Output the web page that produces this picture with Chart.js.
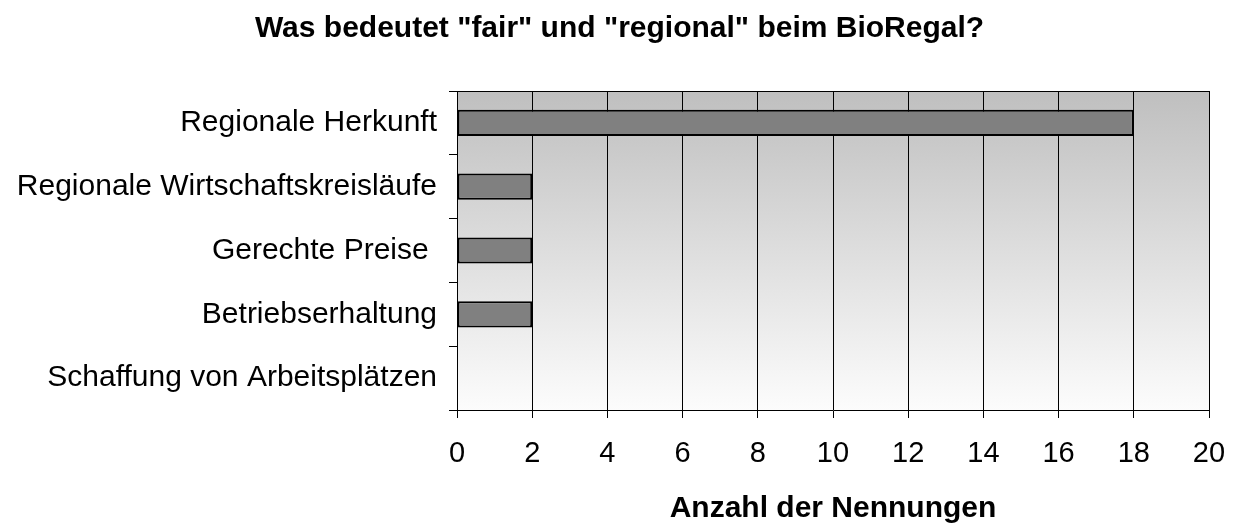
<!DOCTYPE html>
<html>
<head>
<meta charset="utf-8">
<script src="https://cdn.jsdelivr.net/npm/chart.js@4/dist/chart.umd.min.js"></script>
<style>
  html, body { margin: 0; padding: 0; background: #fff; }
  #wrap { width: 1239px; height: 524px; }
</style>
</head>
<body>
<div id="wrap"><canvas id="c" width="1239" height="524"></canvas></div>
<script>
const categories = [
  "Regionale Herkunft",
  "Regionale Wirtschaftskreisläufe",
  "Gerechte Preise ",
  "Betriebserhaltung",
  "Schaffung von Arbeitsplätzen"
];
const counts = [18, 2, 2, 2, 0];
const chartTitle = 'Was bedeutet "fair" und "regional" beim BioRegal?';
const xAxisTitle = 'Anzahl der Nennungen';
const xMin = 0, xMax = 20, xStep = 2;

const FONT = "'Liberation Sans', Arial, sans-serif";

const bgPlugin = {
  id: 'bg',
  beforeDraw(chart) {
    const {ctx, chartArea: a} = chart;
    ctx.save();
    const g = ctx.createLinearGradient(0, a.top, 0, a.bottom);
    g.addColorStop(0, '#bfbfbf');
    g.addColorStop(1, '#fcfcfc');
    ctx.fillStyle = g;
    ctx.fillRect(a.left, a.top, a.right - a.left, a.bottom - a.top);
    ctx.restore();
  },
  afterDatasetsDraw(chart) {
    const {ctx, chartArea: a} = chart;
    ctx.save();
    ctx.strokeStyle = '#000';
    ctx.lineWidth = 1;
    ctx.beginPath();
    ctx.moveTo(a.left - 8, Math.round(a.top) + 0.5);
    ctx.lineTo(a.right, Math.round(a.top) + 0.5);
    ctx.stroke();
    ctx.restore();
  }
};

new Chart(document.getElementById('c'), {
  type: 'bar',
  data: {
    labels: categories,
    datasets: [{
      data: counts,
      backgroundColor: '#808080',
      borderColor: '#000',
      borderWidth: 2,
      borderSkipped: false,
      barPercentage: 0.41,
      categoryPercentage: 1
    }]
  },
  options: {
    indexAxis: 'y',
    responsive: false,
    animation: false,
    devicePixelRatio: 1,
    layout: { padding: 0 },
    plugins: {
      legend: { display: false },
      tooltip: { enabled: false },
      title: {
        display: true,
        text: chartTitle,
        color: '#000',
        font: { family: FONT, size: 30, weight: 'bold', lineHeight: 1.2 },
        padding: { top: 11, bottom: 44 }
      }
    },
    scales: {
      x: {
        type: 'linear',
        min: xMin,
        max: xMax,
        ticks: {
          stepSize: xStep,
          color: '#000',
          font: { family: FONT, size: 29 },
          padding: 19,
          maxRotation: 0
        },
        grid: {
          color: '#000',
          lineWidth: 1,
          drawTicks: true,
          tickLength: 8,
          tickColor: '#000'
        },
        border: { display: true, color: '#000', width: 1 },
        title: {
          display: true,
          text: xAxisTitle,
          color: '#000',
          font: { family: FONT, size: 30, weight: 'bold', lineHeight: 1.2 },
          padding: { top: 0, bottom: -3 }
        },
        afterFit(scale) {
          scale.height = 114;
          scale.paddingRight = 30;
          scale.paddingLeft = 0;
        }
      },
      y: {
        type: 'category',
        offset: true,
        ticks: {
          color: '#000',
          font: { family: FONT, size: 30 },
          padding: 12,
          autoSkip: false
        },
        grid: {
          offset: true,
          drawOnChartArea: false,
          drawTicks: true,
          tickLength: 8,
          color: '#000',
          tickColor: '#000'
        },
        border: { display: true, color: '#000', width: 1 },
        afterFit(scale) { scale.width = 457; }
      }
    }
  },
  plugins: [bgPlugin]
});
</script>
</body>
</html>
